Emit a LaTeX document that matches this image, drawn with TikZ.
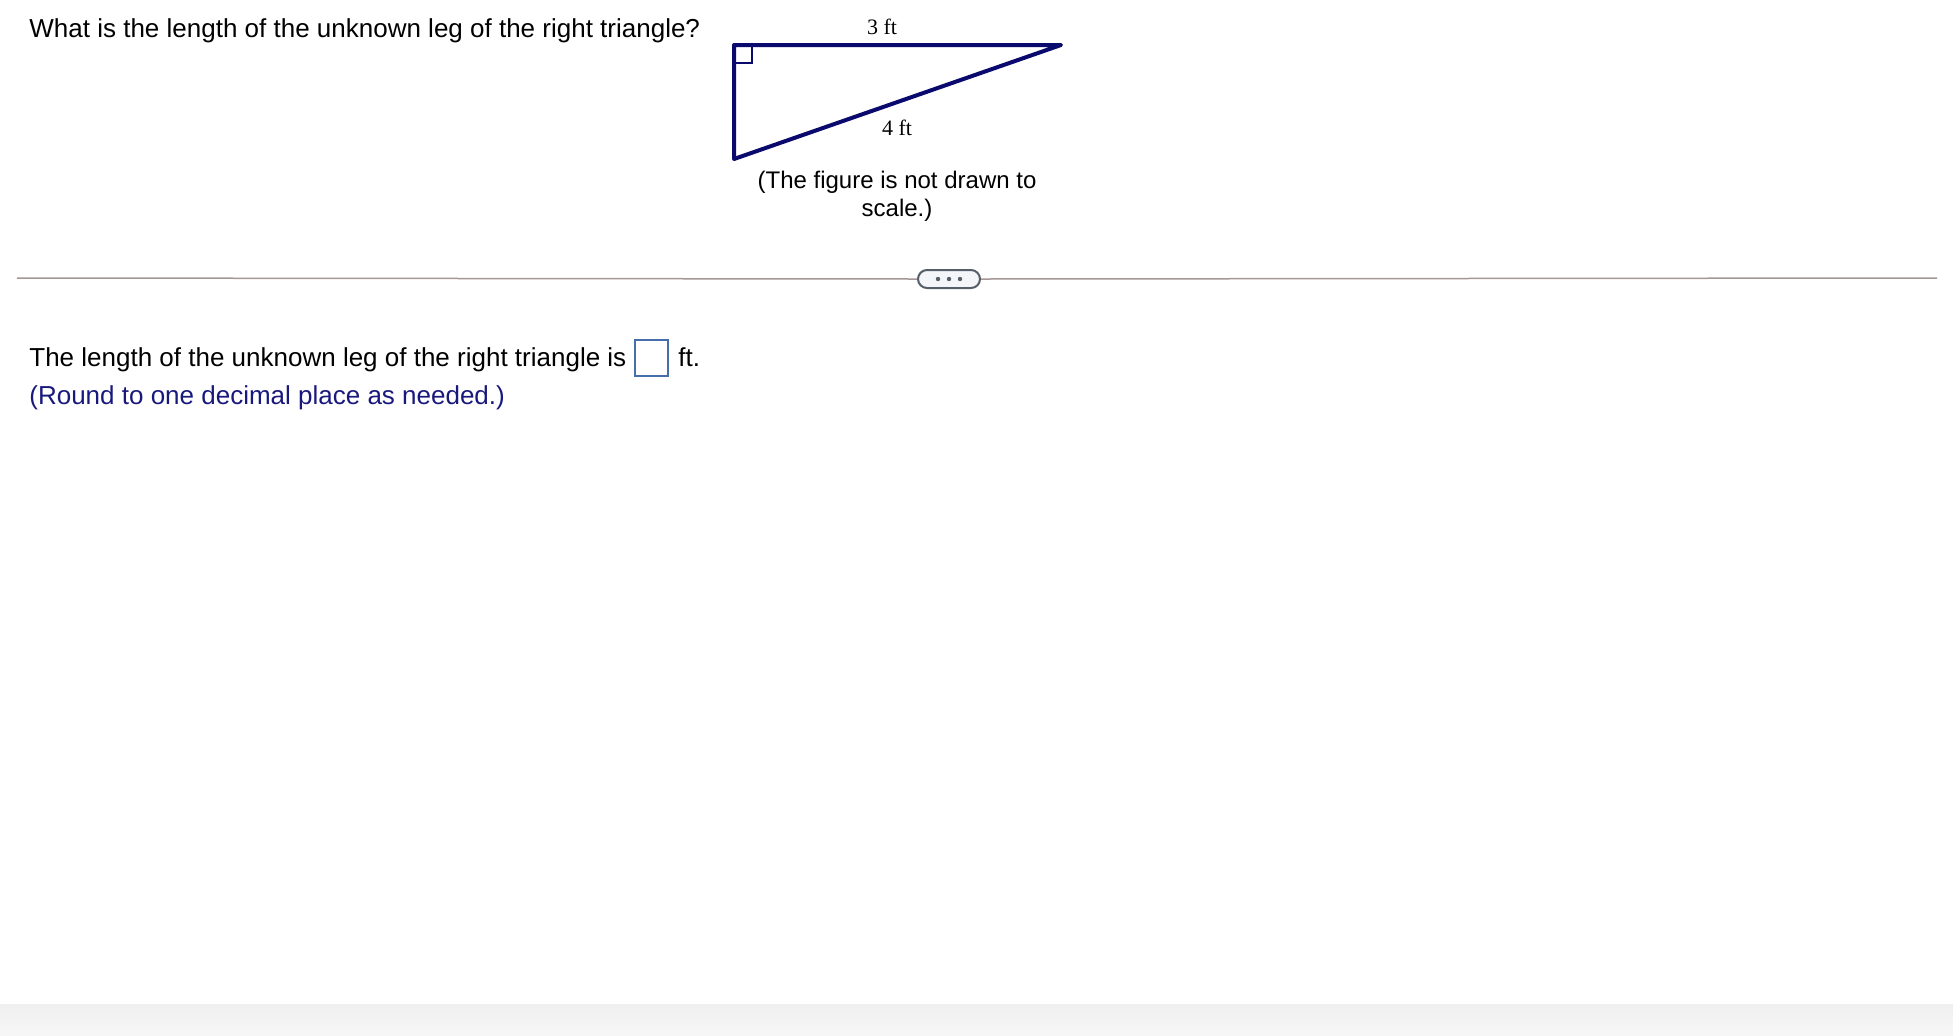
\documentclass[tikz,border=0pt]{standalone}
\usepackage{fontspec}
\setmainfont{Liberation Sans}
\newfontfamily\tnr{Liberation Serif}
\definecolor{navy}{RGB}{10,10,110}
\definecolor{hintblue}{RGB}{25,25,125}
\definecolor{boxblue}{RGB}{70,110,170}
\definecolor{rule}{RGB}{165,150,150}
\definecolor{btnedge}{RGB}{85,95,105}
\definecolor{btnfill}{RGB}{243,245,248}
\begin{document}
\begin{tikzpicture}
  [x=0.5pt,y=-0.5pt,
   txt/.style={inner sep=0pt,anchor=base west,font=\fontsize{13pt}{15pt}\selectfont},
   lbl/.style={inner sep=0pt,anchor=base,font=\tnr\fontsize{11pt}{13pt}\selectfont},
   tri/.style={draw=navy,line width=2pt,line join=round}]
  \useasboundingbox (0,0) rectangle (1953,1035);
  \fill[top color={rgb,255:red,239;green,239;blue,239},bottom color={rgb,255:red,247;green,247;blue,247}]
    (0,1004) rectangle (1953,1035);
  \node (q)[txt] at (29,37) {What is the length of the unknown leg of the right triangle?};
  \coordinate (v1) at (734,45);
  \coordinate (v2) at (1061,45);
  \coordinate (v3) at (734,159);
  \draw[tri] (v1) -- (v2) -- (v3) -- cycle;
  \draw[navy,line width=1pt] (734,63) -| (752,45);
  \node (l3)[lbl] at (882,34) {3 ft};
  \node (l4)[lbl] at (897,135) {4 ft};
  \node (cap)[inner sep=0pt,anchor=base,align=center,
    font=\fontsize{12pt}{14pt}\selectfont] at (897,216) {(The figure is not drawn to\\scale.)};
  \node (btn)[draw=btnedge,fill=btnfill,line width=1pt,rounded corners=4.5pt,
    minimum width=31pt,minimum height=9pt,inner sep=0pt] at (949,279) {};
  \foreach \x in {938,949,960}
    \fill[btnedge] (\x,279) circle (1.1pt);
  \coordinate (s1) at (17,278);
  \coordinate (s2) at (1937,278);
  \draw[rule,line width=0.75pt] (s1) -- (btn.west) (btn.east) -- (s2);
  \node (a1)[txt] at (29,366) {The length of the unknown leg of the right triangle is};
  \node (box)[draw=boxblue,line width=0.75pt,minimum width=16.5pt,minimum height=18pt,
    inner sep=0pt] at (651.5,358) {};
  \node (ft)[txt] at (678,366) {ft.};
  \node (a2)[txt,text=hintblue] at (29,404) {(Round to one decimal place as needed.)};
\end{tikzpicture}
\end{document}
